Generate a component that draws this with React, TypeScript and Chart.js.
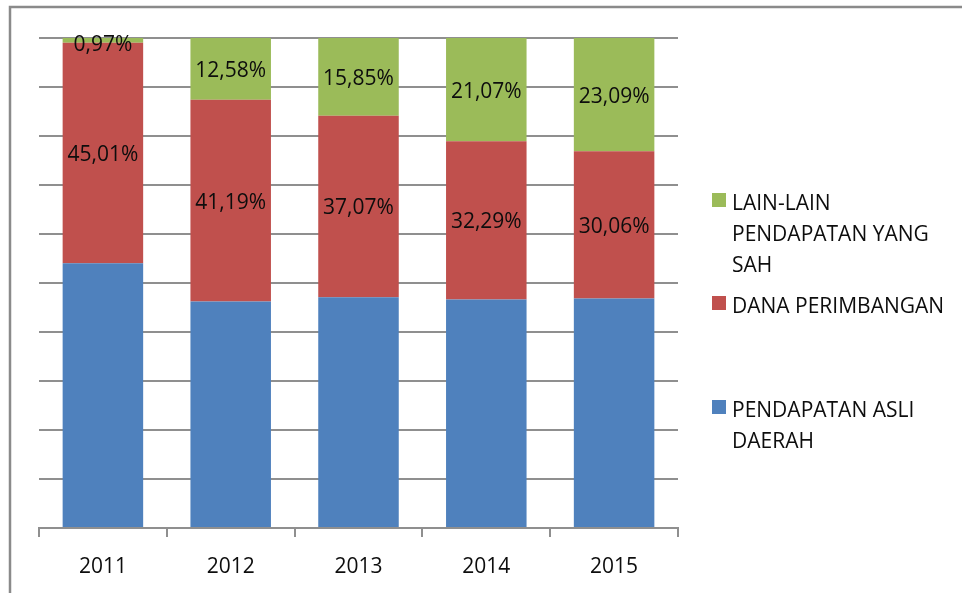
import React, { useEffect, useRef } from "react";
import { Chart, registerables } from "chart.js";

Chart.register(...registerables);

const categories = ["2011", "2012", "2013", "2014", "2015"];
const seriesNames = ["PENDAPATAN ASLI DAERAH", "DANA PERIMBANGAN", "LAIN-LAIN PENDAPATAN YANG SAH"];
const padValues = [54.02, 46.23, 47.08, 46.64, 46.85];
const danaValues = [45.01, 41.19, 37.07, 32.29, 30.06];
const lainValues = [0.97, 12.58, 15.85, 21.07, 23.09];
const yTicks = [0, 10, 20, 30, 40, 50, 60, 70, 80, 90, 100];

const COLORS = ["#4F81BD", "#C0504D", "#9BBB59"];
const FONT = "'Open Sans', 'Noto Sans', sans-serif";
const GRID = "#8f8f8f";
const TEXT = "#0d0d0d";

const fmt = (v: number) => v.toFixed(2).replace(".", ",") + "%";

const labelPlugin = {
  id: "segLabels",
  afterDatasetsDraw(chart: any) {
    const ctx = chart.ctx;
    const area = chart.chartArea;
    ctx.save();
    ctx.font = `21px ${FONT}`;
    ctx.fillStyle = TEXT;
    ctx.textAlign = "center";
    ctx.textBaseline = "middle";
    [1, 2].forEach((di) => {
      const meta = chart.getDatasetMeta(di);
      const data = chart.data.datasets[di].data as number[];
      meta.data.forEach((bar: any, i: number) => {
        const top = Math.min(bar.y, bar.base);
        const bottom = Math.max(bar.y, bar.base);
        let cy = (top + bottom) / 2 + 2;
        if (cy < area.top + 7) cy = area.top + 7;
        ctx.fillText(fmt(data[i]), bar.x, cy);
      });
    });
    ctx.restore();
  },
};

const legendPlugin = {
  id: "customLegend",
  afterDraw(chart: any) {
    const ctx = chart.ctx;
    ctx.save();
    // outer frame
    ctx.strokeStyle = "#8a8a8a";
    ctx.lineWidth = 2.5;
    ctx.beginPath();
    ctx.moveTo(10, 600);
    ctx.lineTo(10, 7);
    ctx.lineTo(970, 7);
    ctx.stroke();

    const items = [
      { color: COLORS[2], lines: ["LAIN-LAIN", "PENDAPATAN YANG", "SAH"], y: 203 },
      { color: COLORS[1], lines: ["DANA PERIMBANGAN"], y: 306 },
      { color: COLORS[0], lines: ["PENDAPATAN ASLI", "DAERAH"], y: 410 },
    ];
    ctx.font = `21px ${FONT}`;
    ctx.textAlign = "left";
    ctx.textBaseline = "middle";
    items.forEach((it) => {
      ctx.fillStyle = it.color;
      ctx.fillRect(712, it.y - 10, 14, 14);
      ctx.fillStyle = TEXT;
      it.lines.forEach((ln, k) => {
        ctx.fillText(ln, 732, it.y + 1 + k * 31);
      });
    });
    ctx.restore();
  },
};

export default function App() {
  const ref = useRef<HTMLCanvasElement | null>(null);
  useEffect(() => {
    if (!ref.current) return;
    const chart = new Chart(ref.current, {
      type: "bar",
      data: {
        labels: categories,
        datasets: [
          { label: seriesNames[0], data: padValues, backgroundColor: COLORS[0] },
          { label: seriesNames[1], data: danaValues, backgroundColor: COLORS[1] },
          { label: seriesNames[2], data: lainValues, backgroundColor: COLORS[2] },
        ].map((d) => ({ ...d, barPercentage: 0.63, categoryPercentage: 1, borderWidth: 0 })),
      },
      options: {
        animation: false,
        responsive: false,
        layout: { padding: { left: 39, top: 38, right: 284, bottom: 0 } },
        plugins: { legend: { display: false }, tooltip: { enabled: false } },
        scales: {
          x: {
            stacked: true,
            grid: {
              offset: true,
              drawOnChartArea: false,
              drawTicks: true,
              tickLength: 9,
              color: GRID,
              lineWidth: 2,
            },
            border: { display: true, color: GRID, width: 2 },
            ticks: { font: { family: FONT, size: 21 }, color: TEXT, padding: 17 },
            afterFit: (s: any) => {
              s.height = 65;
            },
          },
          y: {
            stacked: true,
            min: 0,
            max: 100,
            afterBuildTicks: (s: any) => {
              s.ticks = yTicks.map((v) => ({ value: v }));
            },
            ticks: { display: false },
            grid: { color: GRID, lineWidth: 2, drawTicks: false },
            border: { display: false },
            afterFit: (s: any) => {
              s.width = 0;
            },
          },
        },
      },
      plugins: [labelPlugin, legendPlugin],
    });
    return () => chart.destroy();
  }, []);
  return (
    <div style={{ position: "fixed", left: 0, top: 0, width: 962, height: 593, background: "#fff" }}>
      <canvas ref={ref} width={962} height={593} style={{ display: "block" }} />
    </div>
  );
}
